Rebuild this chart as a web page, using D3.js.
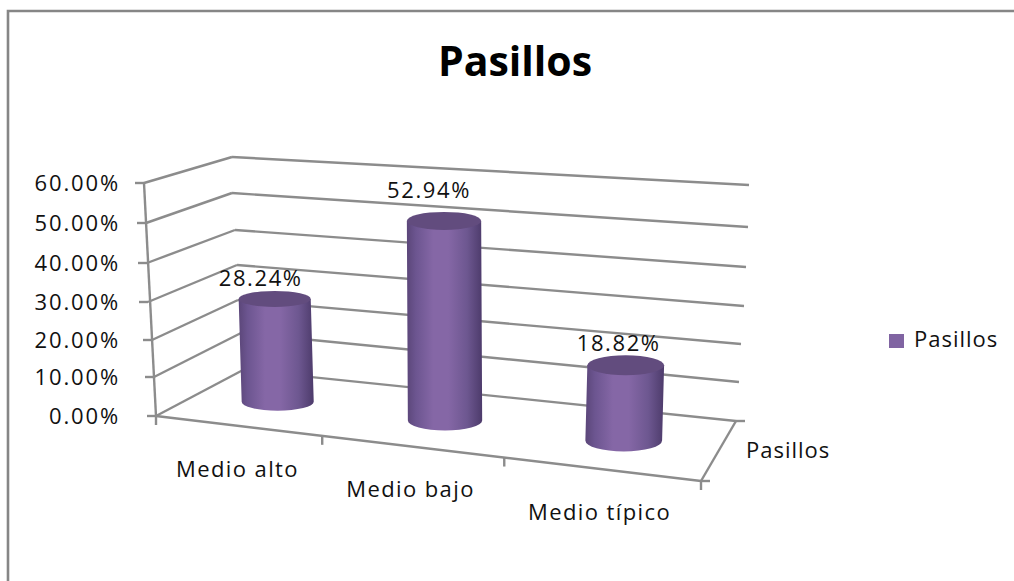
<!DOCTYPE html>
<html><head><meta charset="utf-8">
<script src="https://cdn.jsdelivr.net/npm/d3@7"></script>
<style>html,body{margin:0;background:#fff}svg{display:block}text{font-family:"Open Sans",sans-serif;fill:#111}</style>
</head><body><svg id="c" width="1014" height="581"></svg>
<script>
const chartTitle = "Pasillos";
const categories = ["Medio alto", "Medio bajo", "Medio típico"];
const values = [28.24, 52.94, 18.82];
const seriesName = "Pasillos";
const tickValues = [0, 10, 20, 30, 40, 50, 60];

const svg = d3.select("#c");
const GRID = "#8c8c8c";

// Projected wall edges: each maps an axis value to a pixel position
const frontX = d3.scaleLinear().domain(tickValues).range([156,154,152,148,147,146,144]);
const frontY = d3.scaleLinear().domain(tickValues).range([416,377,340,302,263,223,183]);
const backLX = d3.scaleLinear().domain(tickValues).range([243,241,238,237,235,232,232]);
const backLY = d3.scaleLinear().domain(tickValues).range([370,333,300,265,230,193,157]);
const backRX = d3.scaleLinear().domain(tickValues).range([736,739,741,744,746,748,749]);
const backRY = d3.scaleLinear().domain(tickValues).range([421,382,344,306,267,227,185]);

// Bars stand halfway through the depth of the floor
const along = d3.scaleOrdinal().domain(categories).range([0.15,0.473,0.818]);
const baseX = d3.scaleLinear().domain([0,1]).range([200,718]);
const baseY = d3.scaleLinear().domain([0,1]).range([393,451]);
const unit = d3.scaleLinear().domain([0,0.5,1]).range([3.58,3.78,4.12]);
const barR = d3.scaleLinear().domain([0,1]).range([35.5,39]);
const floorFrac = d3.scaleLinear().domain([0,1,2,3]).range([0,0.305,0.639,1]);

// chart border
svg.append("path").attr("d","M8,581V11H1014").attr("fill","none").attr("stroke","#868686").attr("stroke-width",2.6);

const defs = svg.append("defs");
const g = defs.append("linearGradient").attr("id","cyl");
[[0,"#5b4679"],[0.12,"#6c5590"],[0.35,"#8567a6"],[0.55,"#8567a6"],[0.8,"#6d5790"],[1,"#4d3b6b"]]
  .forEach(([o,c])=>g.append("stop").attr("offset",o).attr("stop-color",c));

const line = (x1,y1,x2,y2,w=2.4)=>svg.append("line").attr("x1",x1).attr("y1",y1).attr("x2",x2).attr("y2",y2)
  .attr("stroke",GRID).attr("stroke-width",w);

// walls
tickValues.forEach(v=>{
  line(backLX(v),backLY(v),backRX(v),backRY(v));
  line(frontX(v),frontY(v),backLX(v),backLY(v));
  line(frontX(v)-9,frontY(v),frontX(v),frontY(v));
  svg.append("text").attr("x",120).attr("y",frontY(v)+2).attr("text-anchor","end")
    .attr("dominant-baseline","middle").attr("font-size",22).attr("letter-spacing",1.85)
    .text(d3.format(".2f")(v)+"%");
});
// vertical axis and floor
line(frontX(60),frontY(60),frontX(0),frontY(0));
const floorFrontR=[701,481];
const floorX=d3.scaleLinear().domain([0,1]).range([frontX(0),floorFrontR[0]]);
const floorY=d3.scaleLinear().domain([0,1]).range([frontY(0),floorFrontR[1]]);
line(frontX(0),frontY(0),floorFrontR[0],floorFrontR[1]);
line(floorFrontR[0],floorFrontR[1],backRX(0),backRY(0));
line(backRX(0),backRY(0),backRX(0)+9,backRY(0));
line(floorFrontR[0],floorFrontR[1],floorFrontR[0]+9,floorFrontR[1]);
d3.range(4).forEach(i=>{const f=floorFrac(i);line(floorX(f),floorY(f),floorX(f),floorY(f)+9);});

// cylinders
const labelDX=[-14,-15,-7], labelDY=[-19,-29,-20];
categories.forEach((cat,i)=>{
  const t=along(cat), cx=baseX(t), by=baseY(t), r=barR(t);
  const ty=by-values[i]*unit(t), ry=[8,9,10][i], skew=(i===0?-3:i===1?-1:2);
  const tx=cx+skew;
  svg.append("path").attr("fill","url(#cyl)")
    .attr("d",`M${tx-r},${ty}L${cx-r},${by}A${r},${ry+1} 0 0 0 ${cx+r},${by}L${tx+r},${ty}Z`);
  svg.append("ellipse").attr("cx",tx).attr("cy",ty).attr("rx",r).attr("ry",ry).attr("fill","#624c7e");
  svg.append("text").attr("x",tx+labelDX[i]).attr("y",ty+labelDY[i]).attr("text-anchor","middle")
    .attr("dominant-baseline","middle").attr("font-size",22).attr("letter-spacing",1.6)
    .text(d3.format(".2f")(values[i])+"%");
});

// category labels
const catPos=[[237.5,471],[410.5,491],[599.5,514]];
categories.forEach((c,i)=>svg.append("text").attr("x",catPos[i][0]).attr("y",catPos[i][1])
  .attr("text-anchor","middle").attr("dominant-baseline","middle").attr("font-size",22).attr("letter-spacing",1.4).text(c));
svg.append("text").attr("x",746).attr("y",452).attr("dominant-baseline","middle")
  .attr("font-size",22).attr("letter-spacing",1).text(seriesName);

// title
svg.append("text").attr("x",515).attr("y",65).attr("text-anchor","middle").attr("dominant-baseline","middle")
  .attr("font-size",41).attr("font-weight",700).style("fill","#000").text(chartTitle);

// legend
svg.append("rect").attr("x",889).attr("y",334).attr("width",15).attr("height",14).attr("fill","#8064a2");
svg.append("text").attr("x",914).attr("y",341).attr("dominant-baseline","middle")
  .attr("font-size",22).attr("letter-spacing",1).text(seriesName);
</script></body></html>
